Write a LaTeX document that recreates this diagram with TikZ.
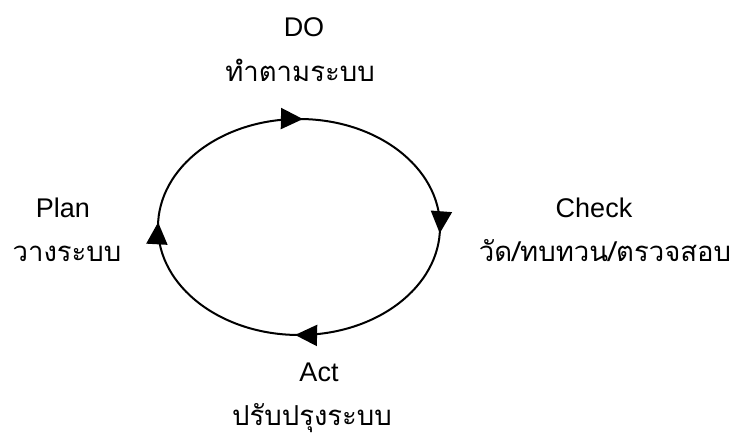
\documentclass[tikz,border=0pt]{standalone}
\usepackage{fontspec}
\setmainfont{Liberation Sans}
\newfontfamily\thaifont[Script=Thai]{Loma}
\usetikzlibrary{arrows.meta,decorations.markings}
\tikzset{
  lat/.style={inner sep=0pt, anchor=base, font=\fontsize{27}{31}\selectfont},
  thai/.style={inner sep=0pt, anchor=base, font=\thaifont\fontsize{27.5}{31}\selectfont},
  cycle/.style={line width=2pt, postaction={decorate}, decoration={markings,
    mark=at position 0.006 with {\arrow{Triangle[length=22pt,width=21pt]}},
    mark=at position 0.255 with {\arrow{Triangle[length=22pt,width=21pt]}},
    mark=at position 0.508 with {\arrow{Triangle[length=22pt,width=21pt]}},
    mark=at position 0.755 with {\arrow{Triangle[length=22pt,width=21pt]}}}}
}
\begin{document}
\begin{tikzpicture}[x=1pt,y=1pt]
\useasboundingbox (0,0) rectangle (732,439);
\coordinate (c) at (299,212);
\draw[cycle] (c) ++(180:141 and 108) arc[start angle=180, end angle=-180, x radius=141, y radius=108];
\node[lat] (do) at (304,402) {DO};
\node[thai] (dot) at (300,357) {ทำตามระบบ};
\node[lat] (plan) at (63,221) {Plan};
\node[thai] (plant) at (67,177) {วางระบบ};
\node[lat] (check) at (594,221) {Check};
\node[thai] (checkt) at (605,177) {วัด/ทบทวน/ตรวจสอบ};
\node[lat] (act) at (319,57) {Act};
\node[thai] (actt) at (312,13) {ปรับปรุงระบบ};
\end{tikzpicture}
\end{document}
